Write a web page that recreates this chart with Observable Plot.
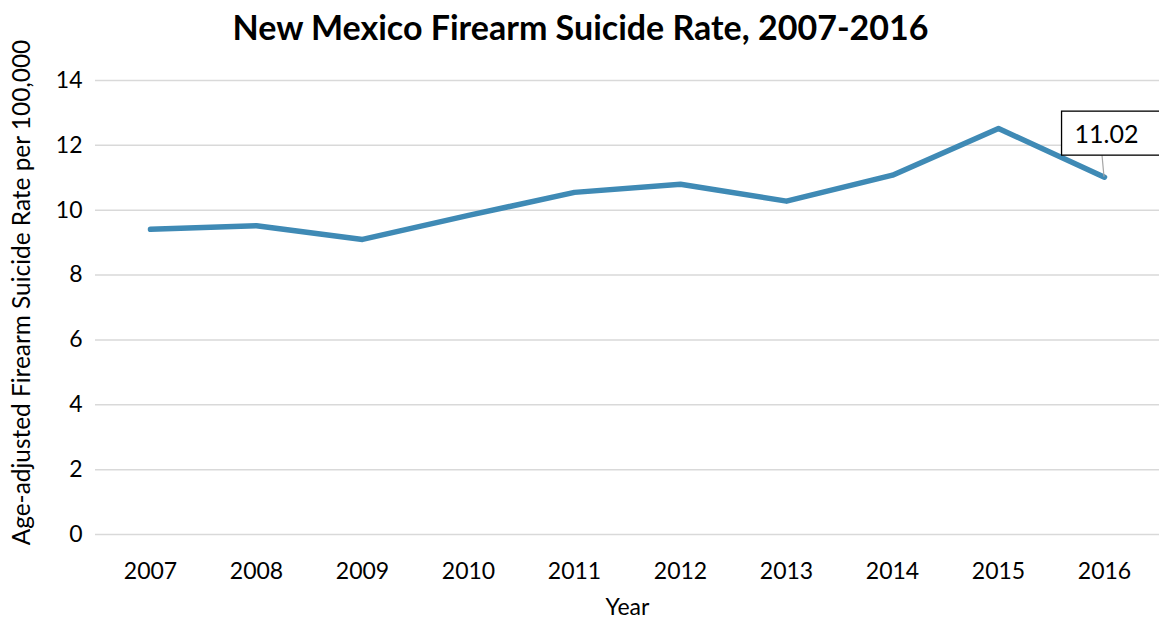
<!DOCTYPE html>
<html><head><meta charset="utf-8">
<script src="https://cdn.jsdelivr.net/npm/d3@7"></script>
<script src="https://cdn.jsdelivr.net/npm/@observablehq/plot@0.6"></script>
<style>
body{margin:0;background:#fff;font-family:Lato,sans-serif;}
</style></head><body>
<div id="chart"></div>
<script>
const title = "New Mexico Firearm Suicide Rate, 2007-2016";
const years = ["2007","2008","2009","2010","2011","2012","2013","2014","2015","2016"];
const rates = [9.41, 9.52, 9.10, 9.84, 10.55, 10.80, 10.28, 11.08, 12.52, 11.02];
const yTicks = [0, 2, 4, 6, 8, 10, 12, 14];
const labelYear = "2016";
const labelText = "11.02";

const data = years.map((y, i) => ({year: y, rate: rates[i]}));
const labelData = data.filter(d => d.year === labelYear);

const plot = Plot.plot({
  width: 1159, height: 619,
  marginTop: 80, marginBottom: 85, marginLeft: 95, marginRight: 0,
  style: {fontFamily: "Lato, sans-serif", fontSize: "23px", color: "#000", overflow: "visible"},
  x: {type: "point", domain: years, padding: 0.5, label: null},
  y: {domain: [0, 14], ticks: yTicks, label: null},
  marks: [
    Plot.gridY(yTicks, {stroke: "#d9d9d9", strokeOpacity: 1, strokeWidth: 1.5}),
    Plot.axisY(yTicks, {tickSize: 0, tickPadding: 13, fontSize: 23}),
    Plot.axisX({tickSize: 0, tickPadding: 28, fontSize: 23}),
    Plot.text([title], {frameAnchor: "top", dx: -47, dy: -65, fontSize: 34, fontWeight: "bold"}),
    Plot.text(["Year"], {frameAnchor: "bottom", dy: 80, fontSize: 23}),
    Plot.text(["Age-adjusted Firearm Suicide Rate per 100,000"], {frameAnchor: "left", textAnchor: "middle", dx: -73, dy: -15, rotate: -90, fontSize: 24.4, className: "ylab"}),
    Plot.line(data, {x: "year", y: "rate", stroke: "#3f8ab5", strokeWidth: 5.5, strokeLinecap: "round", strokeLinejoin: "round"}),
    Plot.text(labelData, {x: "year", y: "rate", text: () => labelText, dx: 2, dy: -42, fontSize: 25, className: "dlabel"})
  ]
});
document.getElementById("chart").appendChild(plot);

// box behind the data label, and leader line to the point
const t = plot.querySelector(".dlabel text");
if (t) {
  const svgR = plot.getBoundingClientRect();
  const r = t.getBoundingClientRect();
  const bx = r.left - svgR.left, by = r.top - svgR.top;
  const padX = 13, padY = 7;
  const NS = "http://www.w3.org/2000/svg";
  const rect = document.createElementNS(NS, "rect");
  rect.setAttribute("x", bx - padX);
  rect.setAttribute("y", by - padY);
  rect.setAttribute("width", r.width + padX * 2 + 20);
  rect.setAttribute("height", r.height + padY * 2);
  rect.setAttribute("fill", "#fff");
  rect.setAttribute("stroke", "#000");
  rect.setAttribute("stroke-width", "1.3");
  const g = t.closest("g.dlabel") || t.parentNode;
  g.parentNode.insertBefore(rect, g);
  const xs = plot.scale("x"), ys = plot.scale("y");
  const d = labelData[0];
  const px = xs.apply(d.year), py = ys.apply(d.rate);
  const line = document.createElementNS(NS, "line");
  line.setAttribute("x1", px - 2);
  line.setAttribute("y1", by - padY + r.height + padY * 2);
  line.setAttribute("x2", px);
  line.setAttribute("y2", py);
  line.setAttribute("stroke", "#a6a6a6");
  line.setAttribute("stroke-width", "1.2");
  rect.parentNode.insertBefore(line, rect);
}
</script>
</body></html>
